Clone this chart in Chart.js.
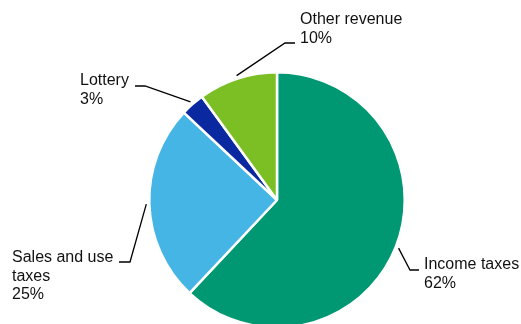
<!DOCTYPE html>
<html>
<head>
<meta charset="utf-8">
<script src="https://cdn.jsdelivr.net/npm/chart.js@4/dist/chart.umd.min.js"></script>
<style>
  html, body { margin: 0; padding: 0; background: #fff; }
  #wrap { position: relative; width: 521px; height: 324px; overflow: hidden; }
  canvas { position: absolute; left: 0; top: 0; }
</style>
</head>
<body>
<div id="wrap"><canvas id="revenueChart" width="521" height="400"></canvas></div>
<script>
// Revenue sources, share of total (%)
const categories = ['Income taxes', 'Sales and use taxes', 'Lottery', 'Other revenue'];
const shares = [62, 25, 3, 10];
const sliceColors = ['#009872', '#45b5e6', '#0a29a0', '#7cbf24'];

// Label text lines per slice (name wrapped as drawn, then the percentage)
const labelLines = [
    ['Income taxes'],
    ['Sales and use', 'taxes'],
    ['Lottery'],
    ['Other revenue']
];

// Callout layout: elbow of leader line, end of short horizontal, text origin
const callouts = [
    { elbow: [410, 270], end: [419, 270], text: [424, 265] },
    { elbow: [130, 262], end: [119, 262], text: [12, 258] },
    { elbow: [145, 86], end: [135, 86], text: [80, 81] },
    { elbow: [285, 43], end: [295, 43], text: [300, 20] }
];

const calloutPlugin = {
    id: 'callouts',
    afterDatasetsDraw(chart) {
        const ctx = chart.ctx;
        const meta = chart.getDatasetMeta(0);
        ctx.save();
        meta.data.forEach((arc, i) => {
            const c = callouts[i];
            const mid = (arc.startAngle + arc.endAngle) / 2;
            const r = arc.outerRadius + 3;
            const sx = arc.x + Math.cos(mid) * r;
            const sy = arc.y + Math.sin(mid) * r;

            ctx.strokeStyle = '#000';
            ctx.lineWidth = 1.3;
            ctx.beginPath();
            ctx.moveTo(sx, sy);
            ctx.lineTo(c.elbow[0], c.elbow[1]);
            ctx.lineTo(c.end[0], c.end[1]);
            ctx.stroke();

            ctx.fillStyle = '#111';
            ctx.font = '16px "Liberation Sans", Arial, sans-serif';
            ctx.textAlign = 'left';
            ctx.textBaseline = 'middle';
            const lines = labelLines[i].concat([shares[i] + '%']);
            lines.forEach((line, k) => {
                ctx.fillText(line, c.text[0], c.text[1] + k * 18.5);
            });
        });
        ctx.restore();
    }
};

new Chart(document.getElementById('revenueChart'), {
    type: 'pie',
    data: {
        labels: categories,
        datasets: [{
            data: shares,
            backgroundColor: sliceColors,
            borderColor: '#ffffff',
            borderWidth: 2.5
        }]
    },
    options: {
        responsive: false,
        animation: false,
        devicePixelRatio: 1,
        layout: { padding: { left: 148, right: 115, top: 71, bottom: 71 } },
        plugins: {
            legend: { display: false },
            tooltip: { enabled: false }
        }
    },
    plugins: [calloutPlugin]
});
</script>
</body>
</html>
